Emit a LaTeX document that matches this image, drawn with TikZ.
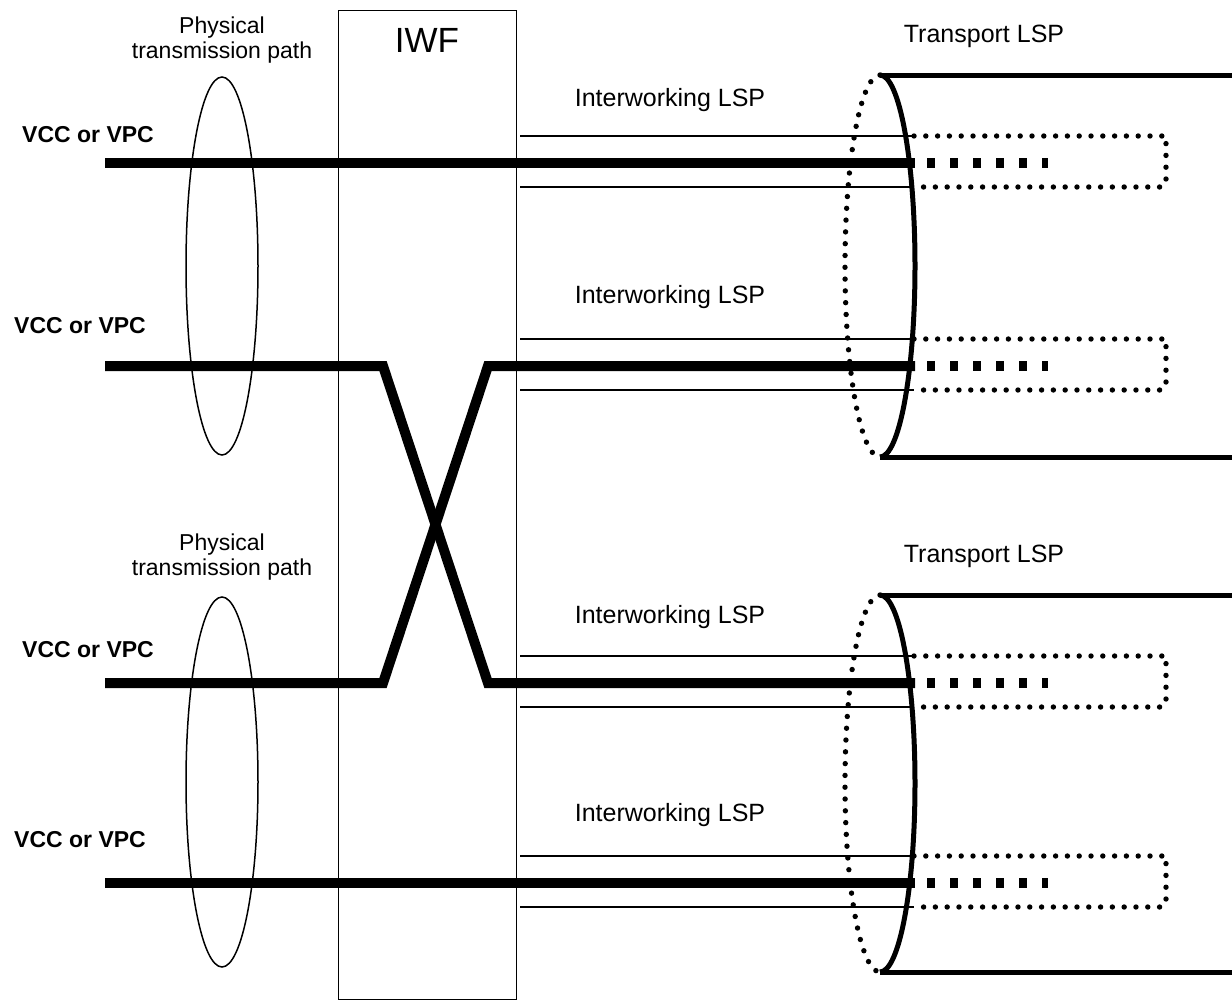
\documentclass[tikz,border=0pt]{standalone}
\usepackage{fontspec}
\setmainfont{Liberation Sans}
\usetikzlibrary{positioning}
\usetikzlibrary{shapes.geometric}
\tikzset{%
  vcc/.style = {line width=5pt},
  lsp/.style = {line width=0.7pt},
  dots/.style = {line width=2.7pt, line cap=round,
        dash pattern=on 0pt off 5.9pt},
  cellmarks/.style = {line width=5pt, dash pattern=on 4pt off 7.5pt},
  tube/.style = {line width=2.5pt},
  ring/.style = {ellipse,draw,line width=0.75pt,inner sep=0pt,
        minimum width=36pt},
  phys/.style = {align=center,font=\fontsize{11.5}{12.5}\selectfont},
  vcclbl/.style = {font=\fontsize{11.5}{13}\selectfont\bfseries},
  lsplbl/.style = {font=\fontsize{12.5}{14}\selectfont}
}

\begin{document}
\begin{tikzpicture}[x=0.5pt,y=-0.5pt]
\useasboundingbox (0,0) rectangle (1232,1001);

% interworking function
\draw[line width=0.5pt] (338,10) rectangle (516,999);
\node[font=\fontsize{17.5}{20}\selectfont] (iwf) at (427,40) {IWF};

% physical transmission paths
\node[ring,minimum height=189pt] (ring1) at (222,266) {};
\node[ring,minimum height=185pt] (ring2) at (222,782) {};
\node[phys] (phys1) at (222,40) {Physical\\transmission path};
\node[phys] (phys2) at (222,557) {Physical\\transmission path};

\node[vcclbl] (vcc1) at (88,135) {VCC or VPC};
\node[vcclbl] (vcc2) at (80,326) {VCC or VPC};
\node[vcclbl] (vcc3) at (88,650) {VCC or VPC};
\node[vcclbl] (vcc4) at (80,840) {VCC or VPC};

% connection ends
\coordinate (a1) at (105,163);
\coordinate (b1) at (915,163);
\coordinate (a2) at (105,366);
\coordinate (k2) at (383,366);
\coordinate (m2) at (488,366);
\coordinate (b2) at (915,366);
\coordinate (a3) at (105,683);
\coordinate (k3) at (383,683);
\coordinate (m3) at (488,683);
\coordinate (b3) at (915,683);
\coordinate (a4) at (105,883);
\coordinate (b4) at (915,883);

\draw[vcc] (a1) -- (b1);
\draw[vcc] (a2) -- (k2) -- (m3) -- (b3);
\draw[vcc] (a3) -- (k3) -- (m2) -- (b2);
\draw[vcc] (a4) -- (b4);

% interworking LSPs
\foreach \r/\y/\ly in {1/163/100, 2/366/297, 3/683/617, 4/883/815} {
  \coordinate (up\r) at (520,{\y-27});
  \coordinate (lo\r) at (520,{\y+24});
  \coordinate (upe\r) at (914,{\y-27});
  \coordinate (loe\r) at (914,{\y+24});
  \draw[lsp] (up\r) -- (upe\r);
  \draw[lsp] (lo\r) -- (loe\r);
  \draw[dots] (upe\r) -- (1166,{\y-27}) [rounded corners=3pt] -- (1166,{\y+24}) -- (loe\r);
  \draw[cellmarks] (927,\y) -- (1048,\y);
  \node[lsplbl] (iw\r) at (670,\ly) {Interworking LSP};
}

% transport LSPs
\coordinate (tt1) at (880,75);
\coordinate (tb1) at (880,457);
\draw[dots] (tt1) arc[start angle=-90, end angle=-270, x radius=35, y radius=191];
\draw[tube] (tt1) arc[start angle=-90, end angle=90, x radius=35, y radius=191];
\draw[tube] (tt1) -- (1232,75);
\draw[tube] (tb1) -- (1232,457);
\node[lsplbl] (tlsp1) at (984,36) {Transport LSP};

\coordinate (tt2) at (880,595);
\coordinate (tb2) at (880,972);
\draw[dots] (tt2) arc[start angle=-90, end angle=-270, x radius=35, y radius=188.5];
\draw[tube] (tt2) arc[start angle=-90, end angle=90, x radius=35, y radius=188.5];
\draw[tube] (tt2) -- (1232,595);
\draw[tube] (tb2) -- (1232,972);
\node[lsplbl] (tlsp2) at (984,556) {Transport LSP};
\end{tikzpicture}
\end{document}
